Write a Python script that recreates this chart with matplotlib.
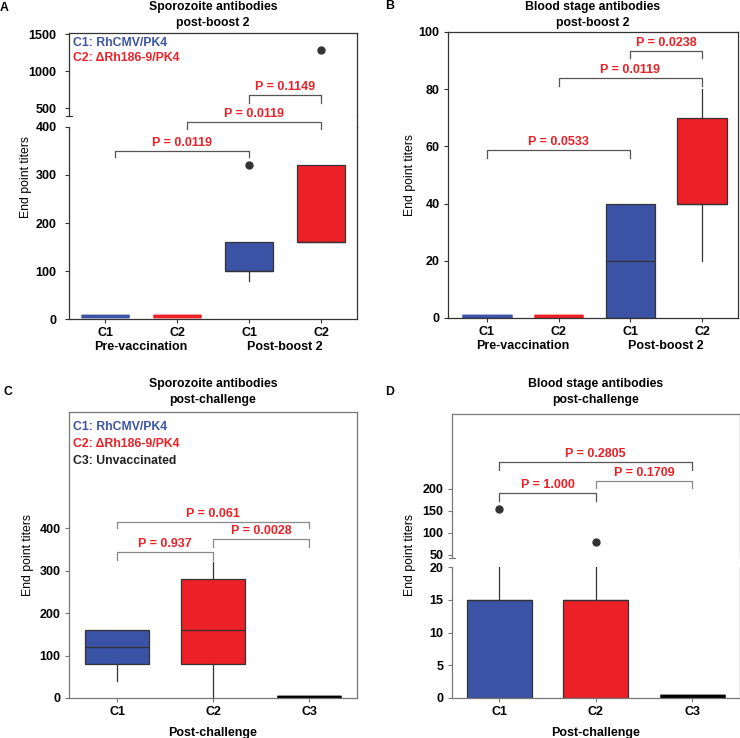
# encoding: utf-8

# Antibody end point titers, four panels (A-D), two of them with broken y axes.

import matplotlib.pyplot as plt
from matplotlib.lines import Line2D

plt.rcParams['font.family'] = ['Liberation Sans', 'DejaVu Sans']
plt.rcParams['font.size'] = 8.8
plt.rcParams['font.weight'] = 'bold'

BLUE = '#3A53A4'
RED = '#EC2027'
DARK = '#333333'
W, H = 740, 738

# A: sporozoite antibodies, post-boost 2
a_labels = ['C1', 'C2', 'C1', 'C2']
a_q1 = [6, 6, 100, 160]
a_med = [6, 6, 100, 160]
a_q3 = [6, 6, 160, 320]
a_lo = [6, 6, 80, 160]
a_hi = [6, 6, 160, 320]
a_fliers = [[], [], [320], [1280]]
a_colors = [BLUE, RED, BLUE, RED]
a_pvals = ['P = 0.0119', 'P = 0.0119', 'P = 0.1149']

# B: blood stage antibodies, post-boost 2
b_labels = ['C1', 'C2', 'C1', 'C2']
b_q1 = [0.6, 0.6, 0, 40]
b_med = [0.6, 0.6, 20, 40]
b_q3 = [0.6, 0.6, 40, 70]
b_lo = [0.6, 0.6, 0, 20]
b_hi = [0.6, 0.6, 40, 80]
b_fliers = [[], [], [], []]
b_colors = [BLUE, RED, BLUE, RED]
b_pvals = ['P = 0.0533', 'P = 0.0119', 'P = 0.0238']

# C: sporozoite antibodies, post-challenge
c_labels = ['C1', 'C2', 'C3']
c_q1 = [80, 80, 3]
c_med = [120, 160, 3]
c_q3 = [160, 280, 3]
c_lo = [40, 0, 3]
c_hi = [160, 320, 3]
c_fliers = [[], [], []]
c_colors = [BLUE, RED, 'black']
c_pvals = ['P = 0.937', 'P = 0.0028', 'P = 0.061']

# D: blood stage antibodies, post-challenge
d_labels = ['C1', 'C2', 'C3']
d_q1 = [0, 0, 0.3]
d_med = [15, 15, 0.3]
d_q3 = [15, 15, 0.3]
d_lo = [0, 0, 0.3]
d_hi = [40, 40, 0.3]
d_fliers = [[155], [80], []]
d_colors = [BLUE, RED, 'black']
d_pvals = ['P = 1.000', 'P = 0.1709', 'P = 0.2805']


def px_axes(fig, l, t, r, b):
    return fig.add_axes([l / W, 1 - b / H, (r - l) / W, (b - t) / H])


def fx(x):
    return x / W


def fy(y):
    return 1 - y / H


def box_stats(q1, med, q3, lo, hi, fliers):
    return [dict(q1=a, med=b, q3=c, whislo=d, whishi=e, fliers=f)
            for a, b, c, d, e, f in zip(q1, med, q3, lo, hi, fliers)]


def draw_boxes(ax, stats, colors, width):
    art = ax.bxp(stats, positions=range(len(stats)), widths=width,
                 patch_artist=True, showcaps=False, manage_ticks=False,
                 boxprops=dict(edgecolor=DARK, linewidth=0.9),
                 whiskerprops=dict(color=DARK, linewidth=0.9),
                 medianprops=dict(color=DARK, linewidth=0.9),
                 flierprops=dict(marker='o', markerfacecolor=DARK,
                                 markeredgecolor=DARK, markersize=5))
    for i, (box, c) in enumerate(zip(art['boxes'], colors)):
        box.set_facecolor(c)
        if stats[i]['q1'] == stats[i]['q3']:
            box.set_edgecolor(c)
            box.set_linewidth(2.5)
            art['medians'][i].set_color(c)
            art['medians'][i].set_linewidth(2.5)


def style(ax, spine_color, pad=3):
    for s in ax.spines.values():
        s.set_color(spine_color)
        s.set_linewidth(0.9)
    ax.tick_params(direction='out', length=3, width=0.8, pad=3,
                   colors=spine_color, labelcolor='black', labelsize=9)
    ax.tick_params(axis='y', pad=pad)


def bracket(ax, x1, x2, y, drop, text, color):
    ax.plot([x1, x1, x2, x2], [y - drop, y, y, y - drop], color=color,
            lw=0.9, clip_on=False)
    ax.annotate(text, ((x1 + x2) / 2, y), xytext=(0, 1.5),
                textcoords='offset points', ha='center', va='bottom',
                color=RED, fontweight='bold', fontsize=9,
                annotation_clip=False)


def group_label(ax, x, text, dy):
    ax.annotate(text, (x, 0), xycoords=('data', 'axes fraction'),
                xytext=(0, dy), textcoords='offset points',
                ha='center', va='center', fontweight='bold', fontsize=9)


fig = plt.figure(figsize=(W / 100, H / 100), dpi=100)

# ---- panel A (broken axis) ----
a_stats = box_stats(a_q1, a_med, a_q3, a_lo, a_hi, a_fliers)
ax_lo = px_axes(fig, 69, 127, 357, 319)
ax_hi = px_axes(fig, 69, 33, 357, 116)
ax_hi.patch.set_visible(False)
for ax in (ax_lo, ax_hi):
    draw_boxes(ax, a_stats, a_colors, 0.67)
    ax.set_xlim(-0.5, 3.5)
    style(ax, DARK, pad=6)
ax_lo.set_ylim(0, 400)
ax_lo.set_yticks([0, 100, 200, 300, 400])
ax_lo.spines['top'].set_visible(False)
ax_lo.set_xticks(range(4))
ax_lo.set_xticklabels(a_labels)
ax_hi.set_ylim(392, 1515)
ax_hi.set_yticks([500, 1000, 1500])
ax_hi.spines['bottom'].set_visible(False)
ax_hi.set_xticks([])
fig.add_artist(Line2D([fx(357), fx(357)], [fy(116), fy(127)], color=DARK, lw=0.9))
fig.add_artist(Line2D([fx(66), fx(72)], [fy(116), fy(116)], color=DARK, lw=0.8))
bracket(ax_lo, 0.14, 2, 350, 12, a_pvals[0], '#555555')
bracket(ax_lo, 1.14, 3, 410, 14, a_pvals[1], '#555555')
bracket(ax_hi, 2, 3, 676, 108, a_pvals[2], '#555555')
group_label(ax_lo, 0.5, 'Pre-vaccination', -20)
group_label(ax_lo, 2.5, 'Post-boost 2', -20)
fig.text(fx(73), fy(43), 'C1: RhCMV/PK4', color=BLUE, va='center')
fig.text(fx(73), fy(58), 'C2: \u0394Rh186-9/PK4', color=RED, va='center')

# ---- panel B ----
ax = px_axes(fig, 448, 32, 738, 318)
draw_boxes(ax, box_stats(b_q1, b_med, b_q3, b_lo, b_hi, b_fliers), b_colors, 0.69)
ax.set_xlim(-0.54, 3.5)
ax.set_ylim(0, 100)
ax.set_yticks(range(0, 101, 20))
ax.set_xticks(range(4))
ax.set_xticklabels(b_labels)
style(ax, DARK)
bracket(ax, 0, 2, 58.7, 2.8, b_pvals[0], '#555555')
bracket(ax, 1, 3, 84, 3, b_pvals[1], '#555555')
bracket(ax, 2, 3, 93.4, 2.6, b_pvals[2], '#555555')
group_label(ax, 0.5, 'Pre-vaccination', -20)
group_label(ax, 2.5, 'Post-boost 2', -20)

# ---- panel C ----
ax = px_axes(fig, 69, 412, 357, 698)
draw_boxes(ax, box_stats(c_q1, c_med, c_q3, c_lo, c_hi, c_fliers), c_colors, 0.67)
ax.set_xlim(-0.5, 2.5)
ax.set_ylim(0, 673)
ax.set_yticks([0, 100, 200, 300, 400])
ax.set_xticks(range(3))
ax.set_xticklabels(c_labels)
style(ax, '#777777')
bracket(ax, 0, 1, 343, 18, c_pvals[0], '#888888')
bracket(ax, 1, 2, 374, 19, c_pvals[1], '#888888')
bracket(ax, 0, 2, 414, 14, c_pvals[2], '#888888')
group_label(ax, 1, 'Post-challenge', -25)
fig.text(fx(73), fy(427), 'C1: RhCMV/PK4', color=BLUE, va='center')
fig.text(fx(73), fy(444), 'C2: \u0394Rh186-9/PK4', color=RED, va='center')
fig.text(fx(73), fy(461), 'C3: Unvaccinated', color='#222222', va='center')

# ---- panel D (broken axis) ----
d_stats = box_stats(d_q1, d_med, d_q3, d_lo, d_hi, d_fliers)
ax_lo = px_axes(fig, 452, 567, 739.5, 698)
ax_hi = px_axes(fig, 452, 414, 739.5, 558)
ax_hi.patch.set_visible(False)
for ax in (ax_lo, ax_hi):
    draw_boxes(ax, d_stats, d_colors, 0.67)
    ax.set_xlim(-0.49, 2.49)
    style(ax, '#777777')
ax_lo.set_ylim(0, 20)
ax_lo.set_yticks([0, 5, 10, 15, 20])
ax_lo.spines['top'].set_visible(False)
ax_lo.set_xticks(range(3))
ax_lo.set_xticklabels(d_labels)
ax_hi.set_ylim(43, 370)
ax_hi.set_yticks([50, 100, 150, 200])
ax_hi.spines['bottom'].set_visible(False)
ax_hi.set_xticks([])
fig.add_artist(Line2D([fx(449), fx(455)], [fy(558), fy(558)], color='#777777', lw=0.8))
bracket(ax_hi, 0, 1, 191, 18, d_pvals[0], '#555555')
bracket(ax_hi, 1, 2, 218, 16, d_pvals[1], '#888888')
bracket(ax_hi, 0, 2, 261, 18, d_pvals[2], '#555555')
group_label(ax_lo, 1, 'Post-challenge', -25)

# ---- titles, letters, axis labels ----
titles = [(213, 15, 'Sporozoite antibodies\npost-boost 2'),
          (593, 15, 'Blood stage antibodies\npost-boost 2'),
          (213, 392, 'Sporozoite antibodies\npost-challenge'),
          (596, 392, 'Blood stage antibodies\npost-challenge')]
for x, y, t in titles:
    fig.text(fx(x), fy(y), t, ha='center', va='center', linespacing=1.4)
for x, y, t in [(4, 8, 'A'), (390, 6, 'B'), (8, 392, 'C'), (390, 392, 'D')]:
    fig.text(fx(x), fy(y), t, ha='center', va='center')
for x, y in [(26, 177), (410, 175), (28, 555), (410, 555)]:
    fig.text(fx(x), fy(y), 'End point titers', rotation=90, ha='center',
             va='center', fontweight='normal')

fig.savefig('out.png', dpi=100)
